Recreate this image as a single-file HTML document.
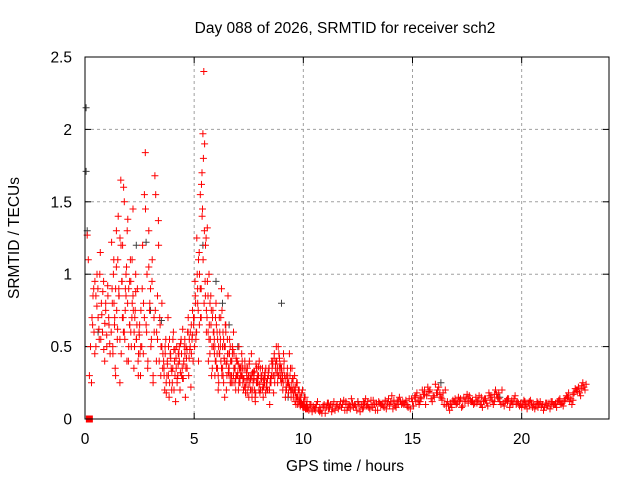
<!DOCTYPE html>
<html><head><meta charset="utf-8"><style>
body{margin:0;background:#fff}
svg{display:block;font-family:"Liberation Sans",sans-serif}
</style></head><body>
<svg id="c" width="640" height="480">
<rect width="640" height="480" fill="#fff"/>
<text x="345" y="33" font-size="15.5" text-anchor="middle">Day 088 of 2026, SRMTID for receiver sch2</text>
<text x="345" y="471" font-size="15.5" text-anchor="middle">GPS time / hours</text>
<text transform="translate(19,238) rotate(-90)" font-size="15.5" text-anchor="middle">SRMTID / TECUs</text>
<g id="grid"></g>
<g id="ticks"></g>
<g id="marks"></g>
<rect x="85" y="57" width="524" height="362" fill="none" stroke="#000" stroke-width="1"/>
</svg>
<script>
const xTicks=[0,5,10,15,20];
const yTicks=[0,0.5,1,1.5,2,2.5];
const yTickLabels=["0","0.5","1","1.5","2","2.5"];
const redSegStart=[0.1,1.2,1.22,2.6,2.62,3.6,3.625,5.0,5.02,5.9,5.925,7.2,7.23,10.2,10.3,10.25,0.32,1.25,3.62,5.05,5.95,7.25,10.15,10.35,7.22,5.92];
const redSegStep=[0.05,0.04,0.055,0.04,0.05,0.05,0.05,0.04,0.045,0.05,0.05,0.06,0.06,0.2,0.2,0.2,0.045,0.05,0.05,0.045,0.05,0.06,0.2,0.2,0.06,0.05];
const redSegValues=[
[1.27,1.1,0.3,0.5,0.25,0.65,0.9,0.45,0.85,1.0,0.7,0.55,1.15,0.8,0.6,0.95,0.4,0.75,0.5,0.85,0.65,0.45],
[0.6,0.9,0.45,1.1,0.7,0.3,1.3,0.55,1.4,0.85,0.25,1.65,0.95,1.2,0.6,1.5,0.75,1.0,0.4,1.38,0.9,0.65,1.1,0.5,0.8,1.45,0.35,0.7,1.0,0.55,0.9,0.3,0.6,0.45,0.75],
[1.22,0.5,0.8,0.35,1.05,0.62,0.9,1.25,0.45,0.7,1.6,0.55,0.85,1.3,0.4,0.95,0.6,1.1,0.75,0.5,0.88,0.65,0.4,0.58,0.3],
[0.5,1.2,0.8,1.55,1.84,0.65,1.0,0.4,1.3,0.75,0.9,0.55,1.1,0.3,0.7,1.68,1.55,0.6,0.85,1.37,0.4,0.65,0.5,0.8,0.35],
[0.9,0.45,0.7,1.45,0.6,0.35,1.05,0.8,0.5,0.95,0.25,0.6,0.75,0.4,0.55,1.2,0.7,0.3,0.5,0.45],
[0.4,0.2,0.55,0.3,0.7,0.15,0.45,0.35,0.25,0.6,0.4,0.12,0.5,0.3,0.45,0.2,0.55,0.35,0.28,0.5,0.15,0.42,0.6,0.3,0.48,0.22,0.55,0.4],
[0.3,0.45,0.18,0.38,0.5,0.25,0.42,0.33,0.55,0.2,0.48,0.35,0.28,0.45,0.4,0.52,0.3,0.62,0.38,0.45,0.5,0.35,0.7,0.55,0.6,0.45,0.75,0.65],
[0.7,0.95,0.55,1.25,0.8,1.1,0.65,1.55,0.9,1.7,1.97,2.4,1.9,1.2,0.75,1.32,0.6,1.0,0.45,0.85,0.3,0.7,0.5],
[0.5,0.8,0.6,0.9,0.4,1.0,0.7,1.62,1.45,1.8,1.3,0.85,0.6,0.95,0.4,0.65,0.55,0.75,0.35,0.6],
[0.6,0.3,0.8,0.45,0.2,0.7,0.5,0.9,0.35,0.55,0.15,0.65,0.4,0.85,0.3,0.5,0.25,0.45,0.6,0.35,0.2,0.4,0.3,0.5,0.25,0.35],
[0.45,0.7,0.35,0.55,0.25,0.6,0.4,0.75,0.3,0.5,0.65,0.2,0.45,0.35,0.55,0.3,0.4,0.25,0.45,0.35,0.3,0.4,0.2,0.35,0.3,0.45],
[0.3,0.2,0.4,0.25,0.35,0.15,0.3,0.45,0.2,0.28,0.12,0.35,0.25,0.4,0.2,0.3,0.15,0.25,0.35,0.2,0.3,0.1,0.25,0.4,0.18,0.3,0.5,0.25,0.45,0.3,0.35,0.2,0.4,0.15,0.3,0.25,0.45,0.2,0.35,0.15,0.3,0.1,0.25,0.2,0.15,0.1,0.2,0.08,0.15,0.1],
[0.25,0.35,0.18,0.3,0.22,0.4,0.28,0.15,0.32,0.2,0.38,0.25,0.3,0.18,0.28,0.35,0.22,0.3,0.25,0.2,0.35,0.28,0.4,0.3,0.45,0.38,0.32,0.5,0.42,0.35,0.28,0.45,0.3,0.22,0.35,0.25,0.3,0.2,0.28,0.22,0.18,0.25,0.15,0.2,0.12,0.18,0.1,0.15,0.08,0.12],
[0.08,0.05,0.1,0.06,0.04,0.08,0.12,0.07,0.1,0.06,0.14,0.09,0.05,0.11,0.08,0.13,0.06,0.1,0.07,0.12,0.09,0.15,0.1,0.08,0.12,0.18,0.14,0.1,0.2,0.15,0.22,0.18,0.12,0.08,0.1,0.14,0.12,0.16,0.1,0.13,0.08,0.11,0.15,0.2,0.12,0.09,0.14,0.1,0.12,0.08,0.1,0.13,0.07,0.1,0.06,0.09,0.12,0.08,0.1,0.14,0.12,0.18,0.22,0.25],
[0.1,0.07,0.06,0.09,0.11,0.05,0.09,0.12,0.06,0.1,0.08,0.12,0.07,0.09,0.13,0.06,0.11,0.08,0.14,0.07,0.12,0.1,0.13,0.07,0.15,0.1,0.17,0.22,0.12,0.18,0.15,0.2,0.06,0.12,0.15,0.09,0.17,0.12,0.15,0.1,0.14,0.18,0.1,0.15,0.2,0.13,0.11,0.16,0.09,0.13,0.11,0.08,0.12,0.09,0.11,0.07,0.1,0.13,0.09,0.15,0.1,0.2,0.16,0.2],
[0.06,0.09,0.12,0.04,0.08,0.1,0.06,0.09,0.13,0.08,0.11,0.06,0.1,0.14,0.07,0.1,0.12,0.09,0.11,0.16,0.08,0.12,0.11,0.14,0.09,0.13,0.2,0.16,0.14,0.24,0.17,0.1,0.09,0.13,0.11,0.08,0.14,0.13,0.11,0.16,0.12,0.09,0.13,0.17,0.1,0.12,0.08,0.14,0.11,0.1,0.07,0.11,0.09,0.12,0.08,0.11,0.1,0.12,0.11,0.16,0.14,0.21,0.18,0.22],
[0.7,0.85,0.6,0.95,0.5,0.78,0.9,0.62,1.0,0.55,0.72,0.88,0.48,0.66,0.8,0.58,0.92,0.7,0.52],
[0.8,1.0,0.65,0.9,0.75,1.1,0.85,0.55,1.2,0.95,0.7,0.6,0.9,1.05,0.8,0.5,0.65,0.95,0.7,0.85,0.6,0.75,0.55,0.9,0.45,0.65,0.5],
[0.35,0.5,0.25,0.4,0.3,0.55,0.45,0.2,0.35,0.48,0.3,0.42,0.25,0.38,0.5,0.32,0.45,0.28,0.4,0.55,0.35,0.48,0.6,0.42,0.5,0.65,0.58,0.7],
[0.85,0.6,1.0,0.75,1.15,0.9,0.7,1.4,1.1,0.8,0.95,1.25,0.7,0.85,0.55,0.8,0.65,0.5,0.75,0.6],
[0.5,0.4,0.6,0.3,0.45,0.55,0.35,0.5,0.25,0.4,0.6,0.3,0.45,0.35,0.25,0.4,0.5,0.3,0.35,0.28,0.4,0.32,0.25,0.35,0.3,0.4],
[0.28,0.22,0.35,0.18,0.3,0.25,0.2,0.32,0.27,0.15,0.25,0.3,0.2,0.35,0.28,0.22,0.3,0.18,0.25,0.32,0.2,0.28,0.35,0.3,0.25,0.4,0.35,0.3,0.38,0.25,0.3,0.35,0.28,0.2,0.3,0.22,0.35,0.25,0.28,0.2,0.22,0.15,0.2,0.12,0.15,0.1,0.12,0.08,0.1,0.07],
[0.07,0.1,0.08,0.05,0.09,0.11,0.07,0.1,0.08,0.12,0.07,0.1,0.09,0.12,0.1,0.08,0.11,0.09,0.13,0.1,0.11,0.13,0.12,0.1,0.14,0.16,0.12,0.17,0.19,0.16,0.18,0.14,0.1,0.11,0.12,0.13,0.15,0.11,0.12,0.11,0.1,0.14,0.13,0.17,0.14,0.11,0.12,0.13,0.1,0.11,0.09,0.12,0.1,0.08,0.1,0.11,0.09,0.1,0.12,0.13,0.15,0.17,0.2,0.23],
[0.09,0.06,0.08,0.1,0.07,0.09,0.1,0.08,0.11,0.09,0.1,0.1,0.08,0.12,0.09,0.11,0.1,0.12,0.09,0.13,0.1,0.11,0.09,0.14,0.12,0.15,0.2,0.18,0.16,0.2,0.13,0.09,0.1,0.14,0.12,0.15,0.14,0.13,0.12,0.15,0.13,0.16,0.12,0.18,0.11,0.14,0.12,0.11,0.1,0.12,0.09,0.1,0.11,0.1,0.09,0.12,0.11,0.14,0.12,0.18,0.13,0.19,0.21,0.24],
[0.35,0.28,0.22,0.32,0.27,0.38,0.2,0.3,0.25,0.33,0.18,0.28,0.36,0.24,0.3,0.2,0.27,0.32,0.22,0.28,0.35,0.25,0.3,0.38,0.42,0.35,0.4,0.3,0.35,0.28,0.32,0.25,0.3,0.2,0.25,0.18,0.22,0.15,0.2,0.18,0.12,0.15,0.1,0.12,0.09,0.11,0.08,0.1,0.07,0.09],
[0.55,0.4,0.65,0.35,0.5,0.45,0.7,0.3,0.6,0.42,0.5,0.38,0.55,0.32,0.45,0.4,0.3,0.48,0.35,0.25,0.42,0.3,0.38,0.28,0.35,0.3]
];
const greyTimes=[0.05,0.05,0.1,0.6,2.35,2.8,3.0,3.5,5.4,6.0,6.3,6.6,7.0,9.0,9.3,16.3,12.5,19.0];
const greyValues=[2.15,1.71,1.3,0.6,1.2,1.22,0.75,0.68,1.2,0.95,0.8,0.65,0.5,0.8,0.15,0.25,0.12,0.15];
const zeroTimes=[0.2];
const zeroValues=[0];

const X=t=>85+t*(524/24);
const Y=v=>419-v*(362/2.5);
const NS='http://www.w3.org/2000/svg';
function mk(tag,attrs,parent){const e=document.createElementNS(NS,tag);for(const k in attrs)e.setAttribute(k,attrs[k]);parent.appendChild(e);return e;}
const grid=document.getElementById('grid'),ticks=document.getElementById('ticks'),marks=document.getElementById('marks');
xTicks.forEach(t=>{
  const x=X(t);
  if(t>0){const g=mk('line',{x1:x,x2:x,y1:57,y2:419,stroke:'#a0a0a0','stroke-dasharray':'3,3'},grid);
  
  }
  mk('line',{x1:x,x2:x,y1:419,y2:413,stroke:'#000'},ticks);
  mk('line',{x1:x,x2:x,y1:57,y2:63,stroke:'#000'},ticks);
  const l=mk('text',{x:x,y:444,'font-size':15.5,'text-anchor':'middle'},ticks);l.textContent=t;
  
  
});
yTicks.forEach((v,i)=>{
  const y=Y(v);
  if(v>0&&v<2.5){const g=mk('line',{x1:85,x2:609,y1:y,y2:y,stroke:'#a0a0a0','stroke-dasharray':'3,3'},grid);
  
  }
  mk('line',{x1:85,x2:91,y1:y,y2:y,stroke:'#000'},ticks);
  mk('line',{x1:609,x2:603,y1:y,y2:y,stroke:'#000'},ticks);
  const l=mk('text',{x:72,y:y+5.5,'font-size':15.5,'text-anchor':'end'},ticks);l.textContent=yTickLabels[i];
  
  
});
function plus(ts,vs){let d='';for(let i=0;i<ts.length;i++){const x=X(ts[i]).toFixed(1),y=Y(vs[i]).toFixed(1);d+=`M${x-3.5},${y}h7M${x},${y-3.5}v7`;}return d;}
const gp=mk('path',{d:plus(greyTimes,greyValues),stroke:'#404040','stroke-width':1,fill:'none'},marks);


let rd='';
redSegValues.forEach((vals,s)=>{const ts=vals.map((_,i)=>redSegStart[s]+i*redSegStep[s]);rd+=plus(ts,vals);});
const rp=mk('path',{d:rd,stroke:'#ff0000','stroke-width':1,fill:'none'},marks);


zeroTimes.forEach((t,i)=>{
  const r=mk('rect',{x:X(t)-3.5,y:Y(zeroValues[i])-3.5,width:7,height:7,fill:'#ff0000'},marks);
  
  
});
</script>
</body></html>
